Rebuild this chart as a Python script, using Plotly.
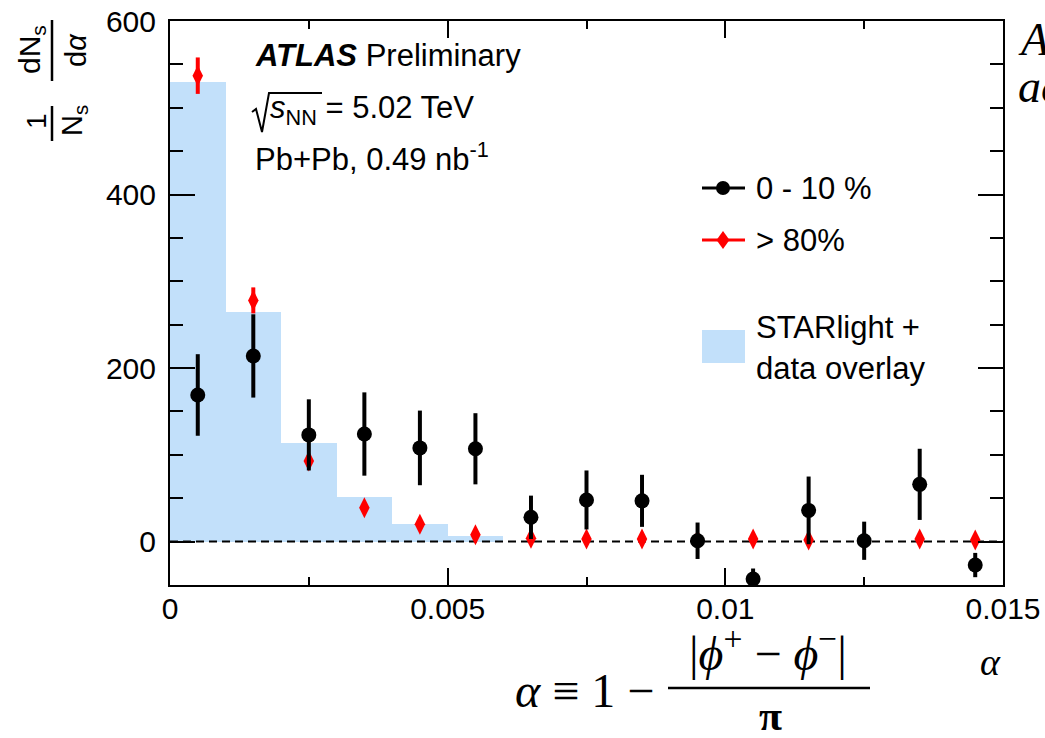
import plotly.graph_objects as go

# Acoplanarity bins (bin centres) and measured distributions
alpha_centres = [0.0005, 0.0015, 0.0025, 0.0035, 0.0045, 0.0055, 0.0065, 0.0075,
                 0.0085, 0.0095, 0.0105, 0.0115, 0.0125, 0.0135, 0.0145]
bin_width = 0.001

central_0_10 = [169, 214, 123, 124, 108, 107, 28, 48, 47, 1, -43, 36, 1, 66, -27]
central_0_10_err = [47, 48, 41, 48, 43, 41, 25, 34, 30, 21, 12, 39, 22, 41, 14]

peripheral_80 = [537, 278, 93, 39, 20, 8, 4, 3, 3, 2, 3, 2, 1, 3, 2]
peripheral_80_err = [21, 15, 7, 5, 4, 3, 2, 2, 2, 2, 2, 2, 2, 2, 2]

starlight_overlay = [530, 265, 114, 51, 20, 7, 0, 0, 0, 0, 0, 0, 0, 0, 0]

x_range = [0, 0.015]
y_range = [-50, 600]
x_tick_vals = [0, 0.005, 0.01, 0.015]
x_tick_text = ["0", "0.005", "0.01", "0.015"]
y_tick_vals = [0, 200, 400, 600]

# page geometry (pixels)
W, H = 1045, 738
L, R, T, B = 170, 1003, 21, 585

SANS = "Liberation Sans"
SERIF = "Liberation Serif"
BLUE = "rgb(194,224,250)"


def px(X):
    return (X - L) / (R - L)


def py(Y):
    return (B - Y) / (B - T)


fig = go.Figure()

fig.add_trace(go.Bar(
    x=alpha_centres, y=starlight_overlay, width=bin_width,
    marker=dict(color=BLUE, line=dict(width=0)), showlegend=False,
))

fig.add_trace(go.Scatter(
    x=x_range, y=[0, 0], mode="lines",
    line=dict(color="black", width=2, dash="8px,5px"), showlegend=False,
))

fig.add_trace(go.Scatter(
    x=alpha_centres, y=peripheral_80, mode="markers",
    marker=dict(symbol="diamond-tall", size=15, color="red"),
    error_y=dict(type="data", array=peripheral_80_err, color="red", thickness=4, width=0),
    showlegend=False,
))

fig.add_trace(go.Scatter(
    x=alpha_centres, y=central_0_10, mode="markers",
    marker=dict(symbol="circle", size=15, color="black"),
    error_y=dict(type="data", array=central_0_10_err, color="black", thickness=4, width=0),
    showlegend=False,
))

annotations = []
shapes = []


def text(X, Y, s, size=31, family=SANS, xanchor="left", angle=0, yanchor="middle"):
    annotations.append(dict(
        x=px(X), y=py(Y), xref="paper", yref="paper", text=s, showarrow=False,
        xanchor=xanchor, yanchor=yanchor, textangle=angle,
        font=dict(family=family, size=size, color="black"),
    ))


def seg(x0, y0, x1, y1, width=2, color="black"):
    shapes.append(dict(type="line", xref="paper", yref="paper",
                       x0=px(x0), y0=py(y0), x1=px(x1), y1=py(y1),
                       line=dict(color=color, width=width)))


# ATLAS label block
text(253, 55, "<b><i>ATLAS</i></b> Preliminary")
shapes.append(dict(type="path", xref="paper", yref="paper",
                   path="M {} {} L {} {} L {} {} L {} {} L {} {}".format(
                       px(252), py(112), px(256), py(109), px(262), py(132),
                       px(269), py(93), px(322), py(93)),
                   line=dict(color="black", width=2)))
text(268, 110, "<i>s</i><sub>NN</sub> = 5.02 TeV")
text(253, 157, "Pb+Pb, 0.49 nb<sup>-1</sup>")

# legend
seg(702, 188, 745, 188, width=3)
shapes.append(dict(type="circle", xref="paper", yref="paper",
                   x0=px(716), y0=py(195), x1=px(730), y1=py(181),
                   fillcolor="black", line=dict(width=0)))
text(754, 188, "0 - 10 %")

seg(702, 240, 745, 240, width=3, color="red")
shapes.append(dict(type="path", xref="paper", yref="paper",
                   path="M {} {} L {} {} L {} {} L {} {} Z".format(
                       px(723), py(231), px(729.5), py(240), px(723), py(249), px(716.5), py(240)),
                   fillcolor="red", line=dict(width=0)))
text(754, 240, "> 80%")

shapes.append(dict(type="rect", xref="paper", yref="paper",
                   x0=px(702), y0=py(363), x1=px(745), y1=py(330),
                   fillcolor=BLUE, line=dict(width=0)))
text(754, 327, "STARlight +")
text(754, 368, "data overlay")

# y-axis title: 1/N_s dN_s/dalpha, drawn rotated
text(36, 121, "1", size=28, xanchor="center", angle=-90)
seg(52, 106, 52, 141, width=2.5)
text(74, 121, "N<sub>s</sub>", size=29, xanchor="center", angle=-90)
text(31, 50, "dN<sub>s</sub>", size=30, xanchor="center", angle=-90)
seg(52, 20, 52, 81, width=2.5)
text(76, 50, "d<i>α</i>", size=29, xanchor="center", angle=-90)

# x-axis title
text(990, 662, "<i>α</i>", size=38, family=SERIF, xanchor="center")

# defining formula below the axis
text(513, 690, "<i>α</i> ≡ 1 −", size=48, family=SERIF)
text(768, 650, "|<i>ϕ</i><sup>+</sup> − <i>ϕ</i><sup>−</sup>|", size=48, family=SERIF, xanchor="center")
seg(668, 688, 870, 688, width=2.5)
text(770, 716, "<b>π</b>", size=42, family=SERIF, xanchor="center")

# text running off the right edge
text(1016, 40, "<i>A</i>", size=46, family=SERIF)
text(1016, 86, "<i>ac</i>", size=46, family=SERIF)

axis_common = dict(
    showline=True, linecolor="black", linewidth=2, mirror="ticks",
    ticks="inside", tickcolor="black", tickwidth=2,
    showgrid=False, zeroline=False, automargin=False,
    tickfont=dict(family=SANS, size=30, color="black"),
)

fig.update_layout(
    width=W, height=H,
    margin=dict(l=L, r=W - R, t=T, b=H - B, pad=0, autoexpand=False),
    paper_bgcolor="white", plot_bgcolor="white",
    bargap=0, showlegend=False,
    xaxis=dict(range=x_range, tickvals=x_tick_vals, ticktext=x_tick_text, ticklen=17,
               ticklabelstandoff=-4,
               minor=dict(ticks="inside", dtick=0.0025, ticklen=8, tickcolor="black", tickwidth=2),
               **axis_common),
    yaxis=dict(range=y_range, tickvals=y_tick_vals, ticklen=25, ticklabelstandoff=6,
               minor=dict(ticks="inside", dtick=50, tick0=0, ticklen=13, tickcolor="black", tickwidth=2),
               **axis_common),
    annotations=annotations, shapes=shapes,
)

fig.write_html("out.html")
